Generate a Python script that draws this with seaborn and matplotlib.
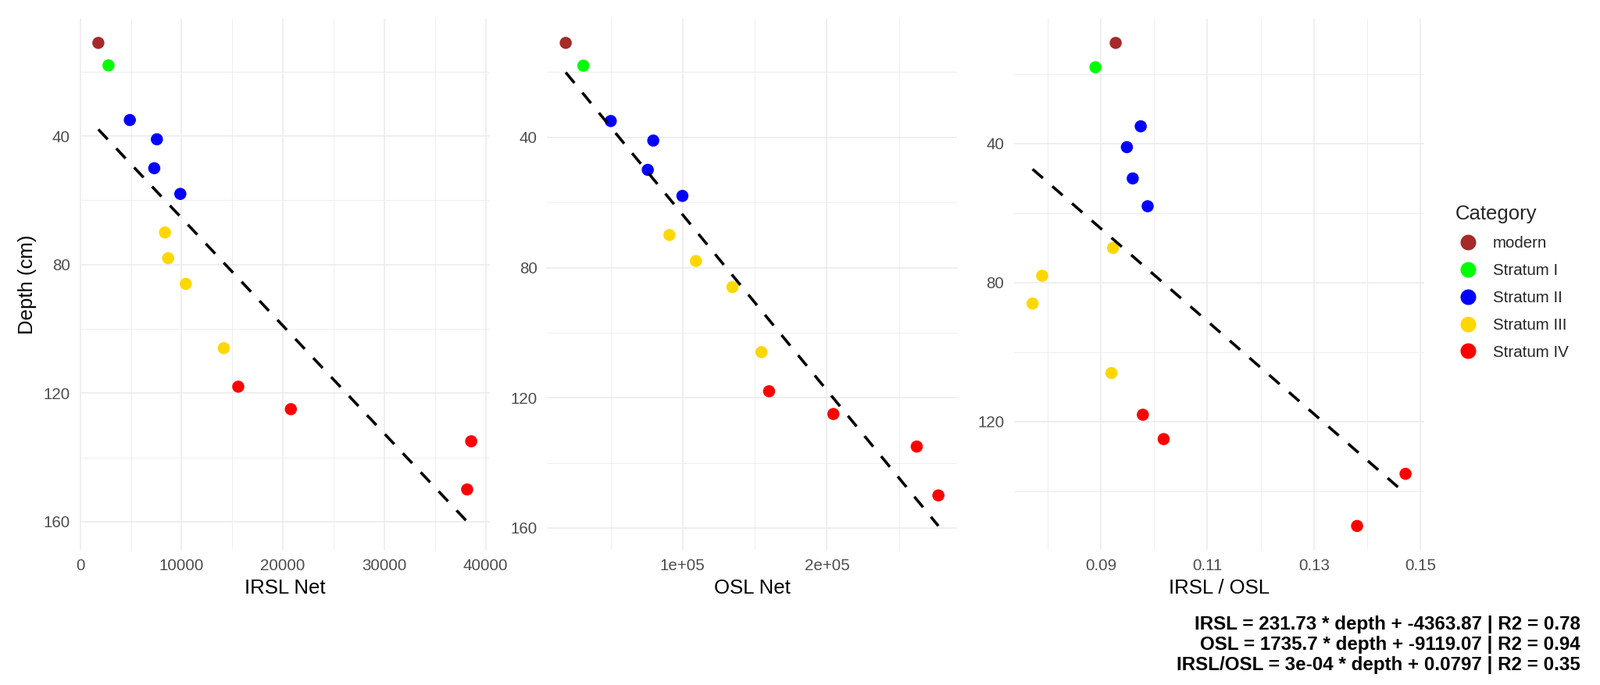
import numpy as np
import pandas as pd
import matplotlib
matplotlib.use("Agg")
import matplotlib.pyplot as plt
from matplotlib.lines import Line2D
import seaborn as sns

# ---------------- data ----------------
depth = [11, 18, 35, 41, 50, 58, 70, 78, 86, 106, 118, 125, 135, 150]
category = ["modern", "Stratum I",
            "Stratum II", "Stratum II", "Stratum II", "Stratum II",
            "Stratum III", "Stratum III", "Stratum III", "Stratum III",
            "Stratum IV", "Stratum IV", "Stratum IV", "Stratum IV"]
irsl_net = [1780, 2780, 4890, 7560, 7300, 9870, 8360, 8670, 10410, 14160,
            15590, 20780, 38580, 38180]
osl_net = [18900, 31100, 50100, 79600, 75800, 99800, 90800, 109200, 134500,
           154600, 159900, 204500, 262300, 277300]
irsl_osl = [0.0928, 0.0890, 0.0975, 0.0949, 0.0960, 0.0988, 0.0923, 0.0790,
            0.0772, 0.0920, 0.0979, 0.1018, 0.1472, 0.1381]

categories = ["modern", "Stratum I", "Stratum II", "Stratum III", "Stratum IV"]
colors = ["#A52A2A", "#00FF00", "#0000FF", "#FFD700", "#FF0000"]

x_titles = ["IRSL Net", "OSL Net", "IRSL / OSL"]
caption_lines = ["IRSL = 231.73 * depth + -4363.87 | R2 = 0.78",
                 "OSL = 1735.7 * depth + -9119.07 | R2 = 0.94",
                 "IRSL/OSL = 3e-04 * depth + 0.0797 | R2 = 0.35"]

x_major = [[0, 10000, 20000, 30000, 40000],
           [100000, 200000],
           [0.09, 0.11, 0.13, 0.15]]
x_minor = [[5000, 15000, 25000, 35000],
           [50000, 150000, 250000],
           [0.08, 0.10, 0.12, 0.14]]
x_labels = [["0", "10000", "20000", "30000", "40000"],
            ["1e+05", "2e+05"],
            ["0.09", "0.11", "0.13", "0.15"]]
y_major = [40, 80, 120, 160]
y_minor = [20, 60, 100, 140]

df = pd.DataFrame({"depth": depth, "category": category,
                   "irsl": irsl_net, "osl": osl_net, "ratio": irsl_osl})
palette = dict(zip(categories, colors))

# ---------------- style ----------------
sns.set_theme(style="white")
plt.rcParams["font.family"] = ["Liberation Sans", "DejaVu Sans"]

W, H = 2048, 877
fig = plt.figure(figsize=(W / 100, H / 100), dpi=100)

def rect(l, r, t, b):
    return [l / W, 1 - b / H, (r - l) / W, (b - t) / H]

panels = [(102, 627), (700.3, 1225), (1297.8, 1823)]
top_px, bot_px = 24, 704.3
xcols = ["irsl", "osl", "ratio"]
grid_col = "#EBEBEB"
line_w = 2.6
dash = (0, (12.6 / line_w, 11.5 / line_w))

for i, (l, r) in enumerate(panels):
    ax = fig.add_axes(rect(l, r, top_px, bot_px))
    col = xcols[i]
    sns.scatterplot(data=df, x=col, y="depth", hue="category", palette=palette,
                    hue_order=categories, s=125, linewidth=0, legend=False,
                    ax=ax, zorder=3)
    sns.regplot(data=df, x=col, y="depth", scatter=False, ci=None, truncate=True,
                line_kws=dict(color="black", lw=line_w, linestyle=dash, zorder=4),
                ax=ax)
    xv = np.asarray(df[col], float)
    yv = np.asarray(df["depth"], float)
    b1, b0 = np.polyfit(xv, yv, 1)
    fit_ends = [b0 + b1 * xv.min(), b0 + b1 * xv.max()]
    ylo = min(yv.min(), *fit_ends)
    yhi = max(yv.max(), *fit_ends)
    yr = yhi - ylo
    xr = xv.max() - xv.min()
    ax.set_xlim(xv.min() - 0.05 * xr, xv.max() + 0.05 * xr)
    ax.set_ylim(yhi + 0.05 * yr, ylo - 0.05 * yr)

    ax.set_xticks(x_major[i])
    ax.set_xticklabels(x_labels[i])
    ax.set_xticks(x_minor[i], minor=True)
    ymaj = [v for v in y_major if ylo - 0.05 * yr <= v <= yhi + 0.05 * yr]
    ymin_ = [v for v in y_minor if ylo - 0.05 * yr <= v <= yhi + 0.05 * yr]
    ax.set_yticks(ymaj)
    ax.set_yticklabels([str(v) for v in ymaj])
    ax.set_yticks(ymin_, minor=True)

    ax.grid(which="major", color=grid_col, lw=1.15)
    ax.grid(which="minor", color=grid_col, lw=0.6)
    ax.set_axisbelow(True)
    for s in ax.spines.values():
        s.set_visible(False)
    ax.tick_params(which="both", length=0, labelsize=14.8, labelcolor="#4D4D4D")
    ax.tick_params(axis="x", pad=8)
    ax.tick_params(axis="y", pad=9)
    ax.set_ylabel("")
    ax.set_xlabel(x_titles[i], fontsize=18.5, color="black", labelpad=5)

fig.text(35 / W, 1 - 364 / H, "Depth (cm)", rotation=90, ha="center",
         va="center", fontsize=18.5, color="black")

# legend
fs_leg = 14.8
pad_px = 12.5
bp = pad_px / (fs_leg * 100 / 72)
handles = [Line2D([0], [0], marker="o", linestyle="", markersize=14.4,
                  markerfacecolor=c, markeredgewidth=0) for c in colors]
leg = fig.legend(handles, categories, title="Category", loc="upper left",
                 bbox_to_anchor=((1863 - pad_px) / W, 1 - (262.5 - pad_px) / H),
                 frameon=False, fontsize=fs_leg, title_fontsize=18.5,
                 borderpad=bp, handlelength=1.6, handletextpad=0.74,
                 labelspacing=0.77, borderaxespad=0)
leg._legend_box.align = "left"

# caption
for k, line in enumerate(caption_lines):
    fig.text(2022.7 / W, 1 - (799.5 + 25.8 * k) / H, line, ha="right",
             va="center", fontsize=17.4, fontweight="bold", color="black")

fig.savefig("out.png", dpi=100, facecolor="white")
